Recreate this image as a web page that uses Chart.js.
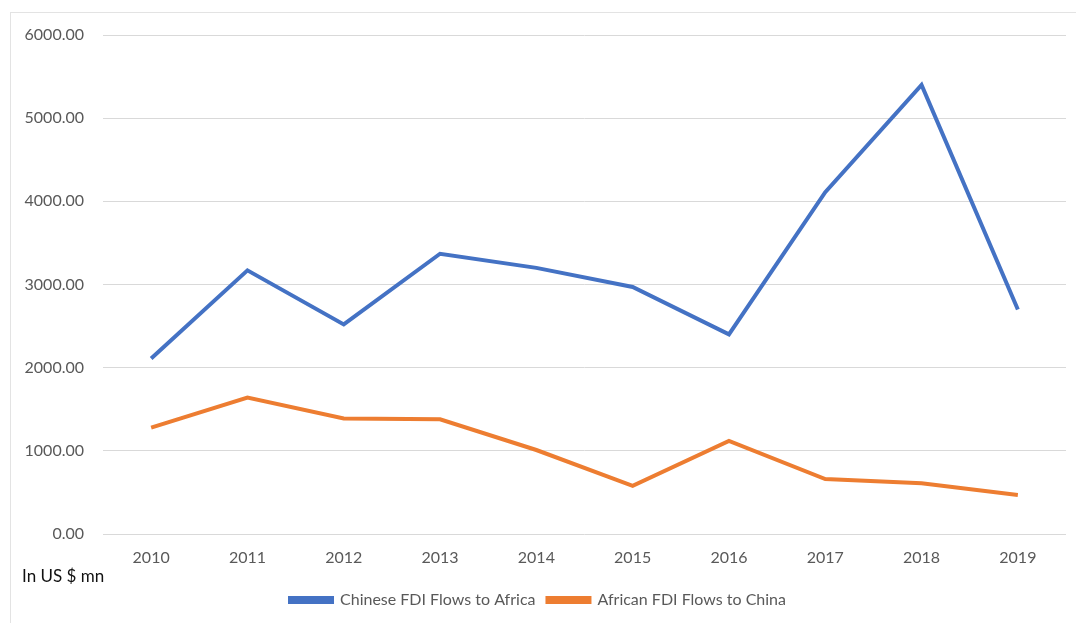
<!DOCTYPE html>
<html>
<head>
<meta charset="utf-8">
<script src="https://cdn.jsdelivr.net/npm/chart.js@4/dist/chart.umd.min.js"></script>
<style>
  html, body { margin: 0; padding: 0; background: #fff; }
  #wrap { position: relative; width: 1076px; height: 623px; }
  #frame { position: absolute; left: 10px; top: 12px; right: 0; bottom: 0;
    border-top: 1px solid #e3e3e3; border-left: 1px solid #e3e3e3; }
  #unit { position: absolute; left: 22px; top: 565px; font: 17px Lato, "Open Sans", sans-serif; color: #111; }
</style>
</head>
<body>
<div id="wrap">
  <div id="frame"></div>
  <canvas id="chart" width="1076" height="623"></canvas>
  <div id="unit">In US $ mn</div>
</div>
<script>
// values, US $ mn
const years = ["2010", "2011", "2012", "2013", "2014", "2015", "2016", "2017", "2018", "2019"];
const chineseToAfrica = [2110, 3170, 2520, 3370, 3200, 2970, 2400, 4110, 5400, 2700];
const africanToChina = [1280, 1640, 1390, 1380, 1010, 580, 1120, 660, 610, 470];
const seriesNames = ["Chinese FDI Flows to Africa", "African FDI Flows to China"];
const yTicks = [0, 1000, 2000, 3000, 4000, 5000, 6000];

const font = { family: "Lato, 'Open Sans', sans-serif", size: 16 };

new Chart(document.getElementById("chart").getContext("2d"), {
  type: "line",
  data: {
    labels: years,
    datasets: [
      { label: seriesNames[0], data: chineseToAfrica, borderColor: "#4472C4", backgroundColor: "#4472C4",
        borderWidth: 4, pointRadius: 0, tension: 0 },
      { label: seriesNames[1], data: africanToChina, borderColor: "#ED7D31", backgroundColor: "#ED7D31",
        borderWidth: 4, pointRadius: 0, tension: 0 }
    ]
  },
  options: {
    responsive: false,
    animation: false,
    layout: { padding: { left: 10, right: 10, top: 35, bottom: 5 } },
    plugins: {
      tooltip: { enabled: false },
      legend: {
        position: "bottom",
        labels: { boxWidth: 42, boxHeight: 4, color: "#595959", font: font, padding: 12 }
      }
    },
    scales: {
      x: {
        offset: true,
        grid: { display: false },
        border: { display: false },
        ticks: { color: "#595959", font: font, padding: 6, maxRotation: 0 },
        afterFit: function (s) { s.height = 46; }
      },
      y: {
        min: 0, max: 6000,
        afterBuildTicks: function (s) { s.ticks = yTicks.map(v => ({ value: v })); },
        grid: { color: "#d9d9d9", lineWidth: 1, drawTicks: false },
        border: { display: false },
        ticks: { color: "#595959", font: font, padding: 19,
          callback: function (v) { return Number(v).toFixed(2); } },
        afterFit: function (s) { s.width = 93; }
      }
    }
  }
});
</script>
</body>
</html>
